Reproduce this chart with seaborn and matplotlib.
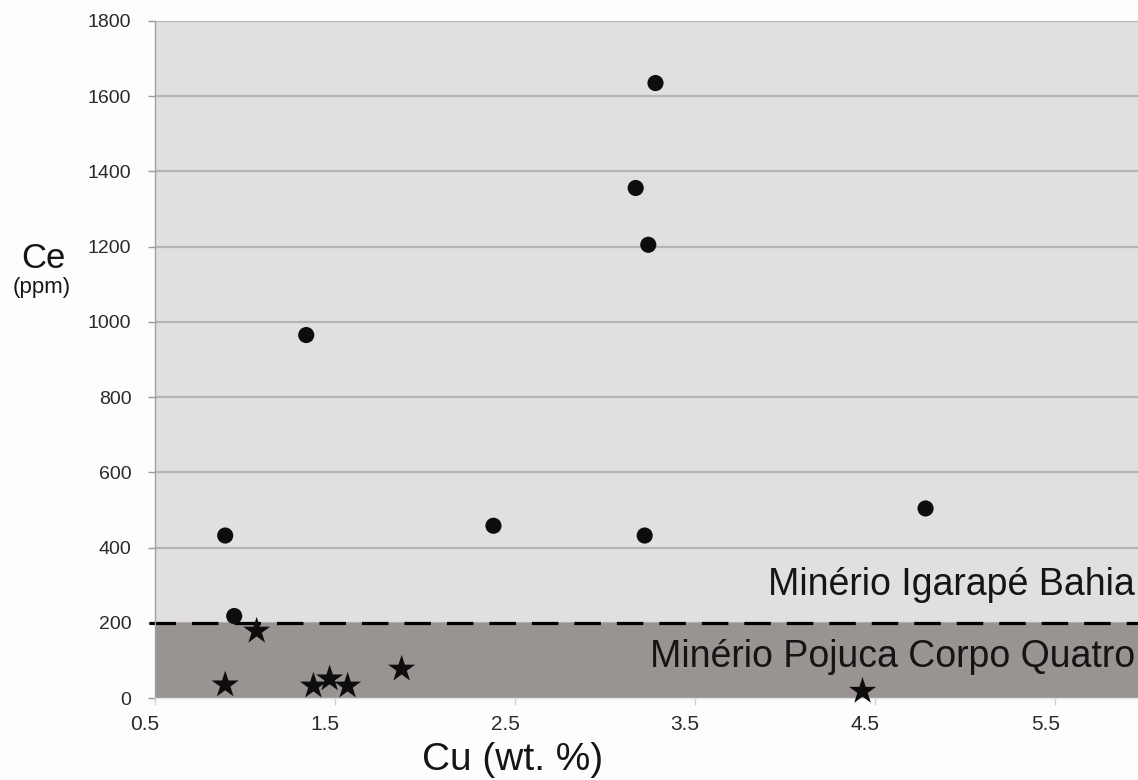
import pandas as pd
import matplotlib
matplotlib.use("Agg")
import matplotlib.pyplot as plt
import matplotlib.transforms as mtrans
import seaborn as sns

# Minério Igarapé Bahia (círculos)
cu_bahia = [0.89, 0.94, 1.34, 2.38, 3.22, 3.17, 3.24, 3.28, 4.78]
ce_bahia = [432, 218, 965, 458, 432, 1356, 1205, 1635, 504]

# Minério Pojuca Corpo Quatro (estrelas)
cu_pojuca = [0.89, 1.065, 1.38, 1.47, 1.57, 1.87, 4.43]
ce_pojuca = [35, 178, 32, 51, 32, 77, 18]

limite_ce = 200
x_ticks = [0.5, 1.5, 2.5, 3.5, 4.5, 5.5]
y_ticks = [0, 200, 400, 600, 800, 1000, 1200, 1400, 1600, 1800]

df_bahia = pd.DataFrame({"Cu": cu_bahia, "Ce": ce_bahia})
df_pojuca = pd.DataFrame({"Cu": cu_pojuca, "Ce": ce_pojuca})

sns.set_style("white")
plt.rcParams["font.family"] = ["Liberation Sans", "DejaVu Sans"]

fig, ax = plt.subplots(figsize=(11.38, 7.8), dpi=100)
fig.patch.set_facecolor("#fdfdfd")
fig.subplots_adjust(left=0.1362, right=1.0, top=0.9731, bottom=0.1051)

ax.set_facecolor("#e2e0de")
ax.axhspan(0, limite_ce, color="#999492", zorder=1)
ax.set_axisbelow(True)
ax.yaxis.grid(True, color="#b5b5b5", linewidth=1.6)
ax.xaxis.grid(False)

# linha tracejada do limite
ax.axhline(limite_ce, xmin=-0.006, xmax=1, color="black", linewidth=2.3,
           linestyle=(0, (8.3, 5)), clip_on=False, zorder=2)

sns.scatterplot(data=df_bahia, x="Cu", y="Ce", marker="o", s=135,
                color="#0d0d0d", edgecolor="none", ax=ax, zorder=3,
                clip_on=False)
sns.scatterplot(data=df_pojuca, x="Cu", y="Ce", marker="*", s=420,
                color="#0d0d0d", edgecolor="none", ax=ax, zorder=3,
                clip_on=False)

ax.set_xlim(0.5, 5.96)
ax.set_ylim(0, 1800)
ax.set_xticks(x_ticks)
ax.set_xticklabels([str(v) for v in x_ticks])
ax.set_yticks(y_ticks)
ax.set_yticklabels([str(v) for v in y_ticks])
ax.tick_params(axis="y", length=5, width=1, color="#9a9a9a", pad=12,
               labelsize=14, labelcolor="#2a2a2a", left=True)
ax.tick_params(axis="x", length=5, width=1, color="#d0d0d0", pad=7,
               labelsize=15, labelcolor="#2a2a2a", bottom=True)
for lab in ax.get_xticklabels():
    lab.set_transform(lab.get_transform()
                      + mtrans.ScaledTranslation(-0.1, 0, fig.dpi_scale_trans))

for side in ["top", "right"]:
    ax.spines[side].set_visible(False)
ax.spines["left"].set_color("#a0a0a0")
ax.spines["left"].set_linewidth(1)
ax.spines["bottom"].set_color("#e0e0e0")
ax.spines["bottom"].set_linewidth(1)

ax.set_xlabel("")
ax.set_ylabel("")

ax.text(0.997, 0.152, "Minério Igarapé Bahia", transform=ax.transAxes,
        ha="right", va="baseline", fontsize=27, color="#151515", zorder=4)
ax.text(0.997, 0.046, "Minério Pojuca Corpo Quatro", transform=ax.transAxes,
        ha="right", va="baseline", fontsize=27, color="#151515", zorder=4)

fig.text(0.45, 0.026, "Cu (wt. %)", ha="center", va="center", fontsize=28,
         color="#151515")
fig.text(0.038, 0.656, "Ce", ha="center", va="baseline", fontsize=25,
         color="#151515")
fig.text(0.037, 0.625, "(ppm)", ha="center", va="baseline", fontsize=16,
         color="#151515")

fig.savefig("out.png", dpi=100, facecolor=fig.get_facecolor())
